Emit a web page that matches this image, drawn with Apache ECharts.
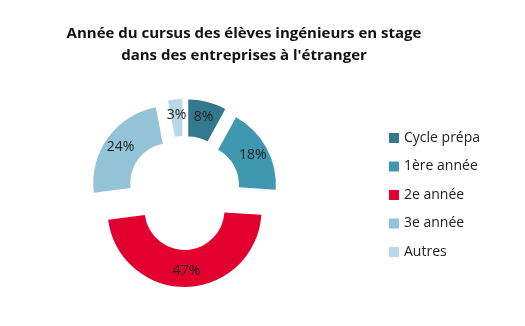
<!DOCTYPE html>
<html><head><meta charset="utf-8">
<script src="https://cdn.jsdelivr.net/npm/echarts@6/dist/echarts.min.js"></script>
<style>html,body{margin:0;padding:0;background:#fff}#c{width:525px;height:326px}</style>
</head><body><div id="c"></div>
<script>
const categories = ['Cycle prépa', '1ère année', '2e année', '3e année', 'Autres'];
const values = [8, 18, 47, 24, 3];
const colors = ['#33798e', '#3f97b0', '#e2002f', '#92c3d6', '#b9d8e5'];
const titleText = "Année du cursus des élèves ingénieurs en stage\ndans des entreprises à l'étranger";

const chart = echarts.init(document.getElementById('c'));
chart.setOption({
  animation: false,
  title: {
    text: titleText,
    left: 239, top: 18, textAlign: 'center',
    textStyle: { fontFamily: 'Open Sans', fontWeight: 'bold', fontSize: 15, color: '#111', lineHeight: 22 }
  },
  legend: {
    orient: 'vertical', left: 384, top: 125,
    icon: 'rect', itemWidth: 10, itemHeight: 10, itemGap: 12.5,
    textStyle: { fontFamily: 'Open Sans', fontSize: 14, color: '#222', lineHeight: 16 },
    selectedMode: false,
    data: categories
  },
  series: [{
    type: 'pie',
    center: [184, 193],
    radius: [40, 77],
    startAngle: 90,
    clockwise: true,
    selectedMode: 'multiple',
    selectedOffset: 17,
    avoidLabelOverlap: false,
    label: {
      show: true, position: 'inside',
      formatter: '{c}%',
      fontFamily: 'Open Sans', fontSize: 14, color: '#222'
    },
    labelLine: { show: false },
    emphasis: { disabled: true },
    data: categories.map((n, i) => ({ name: n, value: values[i], selected: true, itemStyle: { color: colors[i] } }))
  }]
});
</script></body></html>
